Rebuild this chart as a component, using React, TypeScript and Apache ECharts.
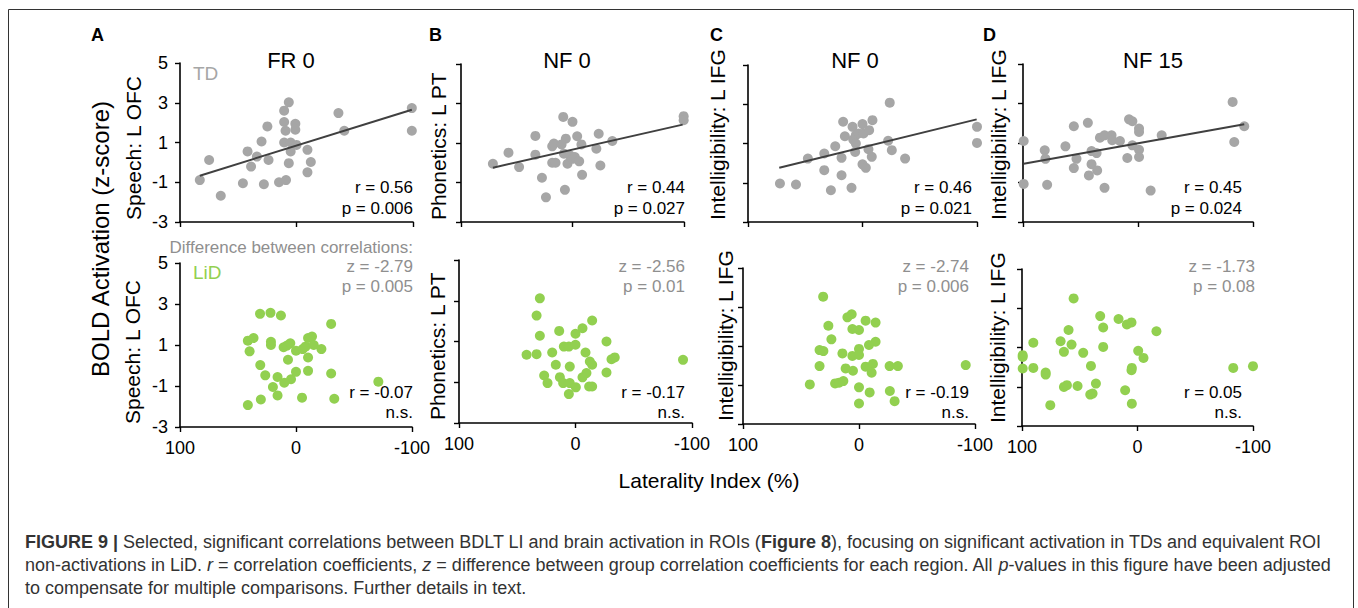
import React, { useEffect, useRef } from "react";
import * as echarts from "echarts";

// ---------- data ----------
const yTicks = [-3, -1, 1, 3, 5];
const xTicks = [-100, 0, 100];
const panelLetters = ["A", "B", "C", "D"];
const panelTitles = ["FR 0", "NF 0", "NF 0", "NF 15"];
const regionNames = ["Speech: L OFC", "Phonetics: L PT", "Intelligibility: L IFG", "Intelligibility: L IFG"];
const tdStats = [
  ["r = 0.56", "p = 0.006"],
  ["r = 0.44", "p = 0.027"],
  ["r = 0.46", "p = 0.021"],
  ["r = 0.45", "p = 0.024"],
];
const lidStats = [
  ["r = -0.07", "n.s."],
  ["r = -0.17", "n.s."],
  ["r = -0.19", "n.s."],
  ["r = 0.05", "n.s."],
];
const diffStats = [
  ["z = -2.79", "p = 0.005"],
  ["z = -2.56", "p = 0.01"],
  ["z = -2.74", "p = 0.006"],
  ["z = -1.73", "p = 0.08"],
];

const tdA = [
  [75, 0.12], [83, -0.89], [65, -1.68], [42, 0.55], [30, 1.05], [25, 1.81], [34, 0.29], [39, -0.21],
  [24, 0.12], [46, -1.05], [28, -1.1], [15, -1.0], [9, -0.89], [6.6, 3.02], [10.6, 2.6], [10.6, 2.03],
  [9.4, 1.59], [1, 1.94], [1, 1.64], [10.6, 1.0], [5, 1.0], [0, 0.88], [5, 0.55], [6.6, -0.04],
  [-9.4, 0.63], [-12.3, 0.02], [-9.4, -0.5], [-36, 2.48], [-41, 1.59], [-99, 2.73], [-99, 1.59],
];
const trendA = [[83, -0.67], [-99, 2.65]];
const lidA = [
  [31, 2.52], [22, 2.57], [13, 2.44], [41.5, 1.21], [36.6, 1.34], [40, 0.69], [21.6, 1.16], [21.6, 1.0],
  [10.7, 0.89], [7.8, 0.97], [4.9, 1.08], [6.9, 0.28], [0, 0.72], [-5.8, 0.8], [-8.1, 0.92], [-10.4, 1.34],
  [-13.8, 1.41], [-15.3, 1.0], [-21.9, 0.8], [-10.4, 0.39], [-30.3, 2.03], [30.8, 0.02], [26.5, -0.48],
  [15.9, -0.56], [4.3, -0.67], [0, -0.31], [-10.4, -0.26], [-30.3, -0.39], [10.1, -0.84], [19.9, -1.05],
  [41.5, -1.93], [30.3, -1.66], [15.9, -1.46], [-5.2, -1.57], [-33, -1.62], [-71, -0.79],
];

const tdB = [
  [71.4, -0.05], [57.4, 0.51], [47.9, -0.22], [33.3, 1.36], [33.3, 0.41], [27.4, -0.76], [23.8, -1.75],
  [18.2, 0.83], [16.7, 0.97], [18.2, 0.0], [15.2, 0.0], [8.3, 2.32], [6, 1.22], [9.8, 0.93], [7.7, 0.46],
  [6.8, -1.37], [4.5, -0.05], [2.4, 0.37], [0, 2.07], [0, 0.2], [-2.1, 0.29], [-4.2, 1.34], [-6, 0.07],
  [-8, 0.93], [-8.6, -0.61], [-21.4, 0.71], [-23.5, 1.47], [-25, -0.14], [-35.7, 1.1], [-99.7, 2.36],
  [-99.7, 2.15],
];
const trendB = [[71.4, -0.25], [-98.8, 1.93]];
const lidB = [
  [30.6, 3.12], [33.4, 2.27], [30.6, 1.28], [42, 0.35], [33.4, 0.38], [20, 0.46], [16.9, -0.14], [14, 1.52],
  [10, 0.75], [5.7, 0.75], [0, 0.84], [0, 1.38], [4.9, -0.23], [26.9, -0.67], [24, -1.04], [13.4, -0.75],
  [10.6, -1.04], [4.9, -1.04], [-0.3, -1.25], [5.7, -1.58], [-6, 1.65], [-14.3, 2.03], [-8.6, 0.46],
  [-12.3, 0.02], [-14.3, -0.14], [-9.4, -0.55], [-6, -0.76], [-11.7, -1.21], [-14.3, -1.21], [-26.6, 1.0],
  [-26.6, -0.52], [-30.9, 0.13], [-33.7, 0.22], [-92.3, 0.1],
];

const tdC = [
  [72.1, -1.04], [58.1, -1.09], [47.7, 0.23], [33.4, 0.49], [33.4, -0.36], [27.6, -1.38], [23.8, 0.86],
  [18.3, 0.27], [18.3, -0.62], [16.9, 2.11], [15.4, 1.37], [9.6, -1.26], [8.7, 1.85], [8.1, 1.2],
  [5.8, 1.43], [3.5, 1.51], [0, 1.99], [-0.9, 1.51], [-5.8, 1.68], [-8.7, 2.19], [6.4, 0.57], [5.8, 1.0],
  [0, -0.06], [-2.9, -0.24], [-5.2, 0.71], [-8.1, 0.32], [-22.4, 1.14], [-23.8, 3.08], [-25.6, 0.66],
  [-37.2, 0.23], [-100, 1.85], [-100, 1.03],
];
const trendC = [[72.7, -0.24], [-99.7, 2.23]];
const lidC = [
  [30.9, 3.53], [42.4, -0.97], [34, 0.79], [30.7, 0.74], [34, -0.03], [26.4, 2.04], [23.8, 1.34],
  [14.3, 0.62], [11.5, -0.15], [20.6, -0.92], [17.2, -0.88], [13.5, -0.8], [10, 2.47], [6.3, 2.63],
  [5.7, 1.87], [0, 1.82], [5.7, 0.49], [0, 0.85], [0, 0.54], [5.2, -0.27], [0, -1.12], [0, -1.95],
  [-5.7, 2.3], [-14.3, 2.2], [-14.3, 1.22], [-8.6, 1.05], [-5.7, -0.06], [-12, 0.08], [-10.9, -0.37],
  [-9.2, -1.38], [-26.4, -0.03], [-33.5, -0.03], [-26.6, -1.31], [-30.7, -1.83], [-92, 0.02],
];

const tdD = [
  [99.4, 1.1], [99.4, -1.07], [81.1, 0.63], [80.5, 0.2], [79, -1.12], [63.1, 0.83], [55.8, 1.85],
  [55.8, -0.27], [53.5, 0.2], [43.6, 2.02], [42.7, -0.64], [40.4, 0.59], [40.4, -0.07], [36, 0.49],
  [35.5, -0.39], [33.1, 1.27], [29.1, 1.39], [29.1, -1.27], [23, 1.39], [22.4, 1.14], [15.7, 1.1],
  [9.3, 0.24], [7.8, 2.2], [4.9, 2.1], [4.9, 0.88], [-0.9, 1.73], [-0.9, 1.56], [-0.9, 0.66], [-0.9, 0.29],
  [-11, -1.41], [-20.6, 1.39], [-82.3, 3.08], [-83.7, 1.05], [-92.4, 1.85],
];
const trendD = [[99.4, -0.05], [-92.4, 1.95]];
const lidD = [
  [99.4, 0.61], [99.4, 0.52], [99.4, -0.07], [90.2, 1.24], [90.2, -0.04], [79.5, -0.28], [79.5, -0.38],
  [75.5, -1.94], [66.6, 1.32], [63.7, 0.78], [63.7, -1.01], [61.1, -0.92], [59.7, 1.89], [57.1, 1.15],
  [55.3, 3.5], [51.9, -0.96], [47, 0.73], [40.9, -1.4], [38.9, -1.35], [40.3, 0.06], [36, -0.84],
  [32.3, 2.6], [29.7, 2.02], [29.7, 1.03], [16.4, 2.45], [10.7, -1.18], [9.2, 2.17], [5.2, 2.28],
  [4.9, -0.04], [5.2, -0.16], [4.9, -1.86], [-0.6, 0.83], [-5.2, 0.47], [-16.4, 1.83], [-82.9, -0.04],
  [-100, 0.05],
];

const tdData = [tdA, tdB, tdC, tdD];
const lidData = [lidA, lidB, lidC, lidD];
const trends = [trendA, trendB, trendC, trendD];

// ---------- layout / style ----------
const FONT = "Liberation Sans, Arial, Helvetica, sans-serif";
const GRAY = "#a6a6a6";
const GREEN = "#92d050";
const TXTGRAY = "#8f8f8f";
const topBoxes = [
  { l: 180, r: 413, t: 63, b: 222 },
  { l: 461, r: 684, t: 64, b: 222 },
  { l: 748, r: 977, t: 65, b: 222 },
  { l: 1023, r: 1253, t: 64, b: 222 },
];
const botBoxes = [
  { l: 180, r: 412, t: 263, b: 427 },
  { l: 459, r: 692, t: 260, b: 423 },
  { l: 743, r: 975, t: 268, b: 424 },
  { l: 1022, r: 1253, t: 269, b: 426 },
];
const letterX = [91, 429, 710, 983];
const titleX = [291, 567, 855, 1153];
const topNameX = [133, 438, 717, 998];
const botNameX = [132, 437, 725, 997];
const topStatRight = [413, 685, 972, 1242];
const botStatRight = [413, 685, 969, 1242];
const diffRight = [413, 685, 969, 1255];

function buildOption() {
  const grids: any[] = [];
  const xAxes: any[] = [];
  const yAxes: any[] = [];
  const series: any[] = [];
  const graphics: any[] = [];
  const boxes = [...topBoxes, ...botBoxes];
  boxes.forEach((bx, i) => {
    const isBottom = i >= 4;
    const col = i % 4;
    grids.push({
      left: bx.l, top: bx.t, width: bx.r - bx.l, height: bx.b - bx.t,
      containLabel: false, outerBoundsMode: "none",
    });
    xAxes.push({
      gridIndex: i, type: "value", min: -100, max: 100, interval: 100, inverse: true,
      axisLine: { onZero: false, lineStyle: { color: "#000", width: 1.6 } },
      axisTick: { show: true, length: 5, inside: false, customValues: xTicks, lineStyle: { color: "#000", width: 1.4 } },
      axisLabel: { show: isBottom, customValues: xTicks, fontSize: 18, color: "#000", margin: 12, fontFamily: FONT },
      splitLine: { show: false },
    });
    yAxes.push({
      gridIndex: i, type: "value", min: -3, max: 5,
      axisLine: { show: true, onZero: false, lineStyle: { color: "#000", width: 1.6 } },
      axisTick: { show: true, length: 5, customValues: yTicks, lineStyle: { color: "#000", width: 1.4 } },
      axisLabel: { show: col === 0, customValues: yTicks, fontSize: 18, color: "#000", margin: 12, fontFamily: FONT },
      splitLine: { show: false },
    });
    series.push({
      type: "scatter", xAxisIndex: i, yAxisIndex: i, clip: false, z: 2,
      data: isBottom ? lidData[col] : tdData[col],
      symbol: "circle", symbolSize: 10,
      itemStyle: { color: isBottom ? GREEN : GRAY, opacity: 1 },
    });
    if (!isBottom) {
      series.push({
        type: "line", xAxisIndex: i, yAxisIndex: i, z: 3, data: trends[col],
        symbol: "none", lineStyle: { color: "#404040", width: 2 }, silent: true,
      });
    }
  });

  const txt = (x: number, y: number, text: string, opts: any = {}, extra: any = {}) => ({
    type: "text", x, y, ...extra,
    style: {
      text, fontFamily: FONT, fontSize: 18, fill: "#000",
      textAlign: "left", textVerticalAlign: "middle", ...opts,
    },
  });

  // frame
  graphics.push({
    type: "rect", shape: { x: 8.5, y: 9.5, width: 1345, height: 620 },
    style: { fill: "none", stroke: "#333", lineWidth: 1 },
  });

  for (let c = 0; c < 4; c++) {
    graphics.push(txt(letterX[c], 35, panelLetters[c], { fontWeight: "bold", fontSize: 18 }));
    graphics.push(txt(titleX[c], 60, panelTitles[c], { fontSize: 22, textAlign: "center" }));
    graphics.push(txt(topNameX[c], topBoxes[c].b - 2, regionNames[c], { fontSize: 21 }, { rotation: Math.PI / 2 }));
    graphics.push(txt(botNameX[c], botBoxes[c].b - 3, regionNames[c], { fontSize: 21 }, { rotation: Math.PI / 2 }));
    graphics.push(txt(topStatRight[c], 187, tdStats[c][0], { textAlign: "right", fontSize: 17 }));
    graphics.push(txt(topStatRight[c], 208, tdStats[c][1], { textAlign: "right", fontSize: 17 }));
    graphics.push(txt(botStatRight[c], 392, lidStats[c][0], { textAlign: "right", fontSize: 17 }));
    graphics.push(txt(botStatRight[c], 412, lidStats[c][1], { textAlign: "right", fontSize: 17 }));
    graphics.push(txt(diffRight[c], 266, diffStats[c][0], { textAlign: "right", fontSize: 17, fill: TXTGRAY }));
    graphics.push(txt(diffRight[c], 286, diffStats[c][1], { textAlign: "right", fontSize: 17, fill: TXTGRAY }));
  }
  graphics.push(txt(413, 247, "Difference between correlations:", { textAlign: "right", fontSize: 17, fill: TXTGRAY }));
  graphics.push(txt(193, 73, "TD", { fontSize: 19, fill: GRAY }));
  graphics.push(txt(193, 272, "LiD", { fontSize: 19, fill: GREEN }));
  graphics.push(txt(100, 239, "BOLD Activation (z-score)", { fontSize: 24, textAlign: "center" }, { rotation: Math.PI / 2 }));
  graphics.push(txt(709, 480, "Laterality Index (%)", { fontSize: 21, textAlign: "center" }));

  const capRich = {
    b: { fontWeight: "bold", fontFamily: FONT, fontSize: 18, fill: "#333" },
    i: { fontStyle: "italic", fontFamily: FONT, fontSize: 18, fill: "#333" },
  };
  const cap = (y: number, text: string) =>
    txt(25, y, text, { fontSize: 18, fill: "#333", rich: capRich });
  graphics.push(cap(542, "{b|FIGURE 9 |} Selected, significant correlations between BDLT LI and brain activation in ROIs ({b|Figure 8}), focusing on significant activation in TDs and equivalent ROI"));
  graphics.push(cap(565, "non-activations in LiD. {i|r} = correlation coefficients, {i|z} = difference between group correlation coefficients for each region. All {i|p}-values in this figure have been adjusted"));
  graphics.push(cap(588, "to compensate for multiple comparisons. Further details in text."));

  return {
    animation: false,
    backgroundColor: "#fff",
    grid: grids,
    xAxis: xAxes,
    yAxis: yAxes,
    series,
    graphic: graphics,
  };
}

export default function App() {
  const ref = useRef<HTMLDivElement>(null);
  useEffect(() => {
    if (!ref.current) return;
    const chart = echarts.init(ref.current, null, { renderer: "svg" });
    chart.setOption(buildOption());
    return () => chart.dispose();
  }, []);
  return (
    <div
      ref={ref}
      style={{ position: "fixed", left: 0, top: 0, width: 1358, height: 608, background: "#fff" }}
    />
  );
}
